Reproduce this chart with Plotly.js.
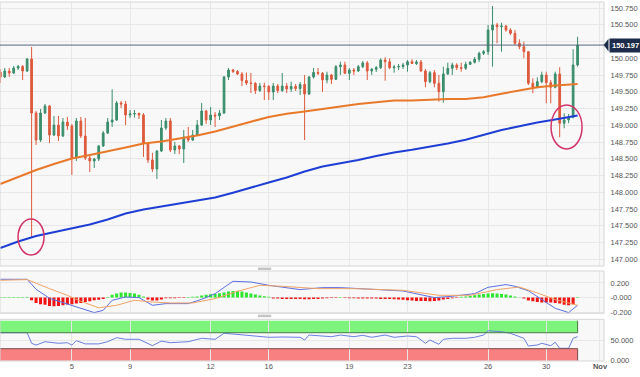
<!DOCTYPE html>
<html><head><meta charset="utf-8">
<script src="https://cdn.plot.ly/plotly-3.0.1.min.js"></script>
<style>html,body{margin:0;padding:0;background:#fff;}#chart{width:640px;height:377px;}</style>
</head><body><div id="chart"></div>
<script>
// 4-hour candles, slot index (6 per weekday + 1 Sunday slot), first visible slot = 2
const firstSlot = 2;
const open = [149.795,149.721,149.810,149.780,149.855,149.878,149.810,149.989,149.183,148.780,
149.183,149.288,148.855,149.004,148.840,149.049,148.989,148.512,149.064,148.840,
148.512,148.467,148.497,148.691,148.885,149.049,149.079,149.333,149.318,149.154,
149.169,149.176,149.154,148.736,148.482,148.348,148.616,148.960,149.064,148.631,
148.691,148.646,148.825,148.780,148.855,149.004,149.213,149.079,149.154,149.139,
149.183,149.721,149.825,149.803,149.766,149.668,149.631,149.624,149.519,149.586,
149.579,149.497,149.586,149.519,149.586,149.542,149.579,149.549,149.609,149.467,
149.721,149.788,149.776,149.676,149.751,149.686,149.875,149.900,149.776,149.825,
149.810,149.875,149.930,149.810,149.836,149.860,149.974,149.949,149.860,149.870,
149.878,149.900,149.949,149.922,149.945,149.810,149.651,149.785,149.627,149.501,
149.766,149.851,149.900,149.860,149.851,149.910,149.940,149.985,150.074,150.098,
150.422,150.497,150.471,150.482,150.422,150.373,150.224,150.173,150.098,149.627,
149.567,149.651,149.751,149.636,149.567,149.766,149.030,149.079,149.119,149.900];
const high = [149.840,149.855,149.855,149.885,149.900,149.900,150.004,150.169,149.213,149.243,
149.318,149.303,149.139,149.139,149.109,149.124,149.019,149.109,149.124,149.109,
148.542,148.512,148.706,148.915,149.109,149.537,149.363,149.363,149.363,149.228,
149.228,149.191,149.183,148.736,148.587,148.631,149.079,149.109,149.109,148.751,
148.706,148.930,148.975,148.930,149.079,149.333,149.228,149.273,149.198,149.228,
149.736,149.855,149.840,149.825,149.795,149.785,149.780,149.646,149.631,149.636,
149.601,149.631,149.616,149.780,149.631,149.651,149.616,149.646,149.751,149.736,
149.855,149.855,149.795,149.800,149.766,149.900,149.949,149.949,149.855,149.855,
149.900,149.960,149.960,149.855,149.885,150.000,150.015,150.000,149.900,149.915,
149.930,149.974,149.985,149.974,149.974,149.840,149.810,149.825,149.751,149.875,
149.934,149.934,149.925,149.934,149.949,149.960,150.019,150.098,150.124,150.497,
150.780,150.527,150.531,150.497,150.448,150.422,150.283,150.248,150.109,149.701,
149.716,149.800,149.800,149.676,149.800,149.866,149.179,149.169,150.134,150.322];
const low = [149.631,149.706,149.721,149.766,149.825,149.676,149.795,147.333,148.706,148.751,
149.169,148.736,148.840,148.766,148.825,148.930,148.258,148.467,148.810,148.482,
148.303,148.363,148.467,148.676,148.870,148.975,149.064,149.258,149.004,149.109,
149.116,149.094,148.527,148.437,148.303,148.198,148.601,148.930,148.601,148.572,
148.572,148.437,148.751,148.766,148.840,148.989,149.019,149.004,148.975,149.079,
149.169,149.676,149.780,149.751,149.586,149.601,149.482,149.467,149.497,149.377,
149.377,149.377,149.482,149.497,149.482,149.497,149.512,149.452,148.780,149.452,
149.698,149.751,149.501,149.627,149.616,149.676,149.751,149.766,149.676,149.751,
149.795,149.855,149.676,149.751,149.795,149.840,149.665,149.836,149.785,149.825,
149.840,149.800,149.915,149.900,149.800,149.567,149.627,149.567,149.352,149.337,
149.751,149.751,149.825,149.800,149.825,149.900,149.922,149.945,150.049,150.049,
149.875,150.224,150.098,150.397,150.348,150.198,150.134,150.000,149.601,149.477,
149.552,149.627,149.328,149.328,149.552,148.821,148.955,149.030,149.104,149.875];
const close = [149.721,149.810,149.780,149.855,149.878,149.810,149.989,149.183,148.780,149.183,
149.288,148.855,149.004,148.840,149.049,148.989,148.512,149.064,148.840,148.512,
148.467,148.497,148.691,148.885,149.049,149.079,149.333,149.318,149.154,149.169,
149.176,149.154,148.736,148.482,148.348,148.616,148.960,149.064,148.631,148.691,
148.646,148.825,148.780,148.855,149.004,149.213,149.079,149.154,149.139,149.183,
149.721,149.825,149.803,149.766,149.668,149.631,149.624,149.519,149.586,149.579,
149.497,149.586,149.519,149.586,149.542,149.579,149.549,149.609,149.467,149.721,
149.788,149.776,149.676,149.751,149.686,149.875,149.900,149.776,149.825,149.810,
149.875,149.930,149.810,149.836,149.860,149.974,149.949,149.860,149.870,149.878,
149.900,149.949,149.922,149.945,149.810,149.651,149.785,149.627,149.501,149.766,
149.851,149.900,149.860,149.851,149.910,149.940,149.985,150.074,150.098,150.422,
150.497,150.471,150.482,150.422,150.373,150.224,150.173,150.098,149.627,149.567,
149.651,149.751,149.636,149.567,149.766,149.030,149.079,149.119,149.900,150.197];

const maSlots = [2,6,10,14,18,22,26,30,34,38,42,46,50,54,58,62,66,70,74,78,82,86,90,94,98,102,106,110,114,118,122,126,130,131];
const smaOrange = [148.124,148.228,148.333,148.422,148.504,148.557,148.609,148.669,148.728,148.758,148.803,148.848,148.907,148.975,149.054,149.124,149.173,149.206,149.248,149.281,149.318,149.340,149.370,149.370,149.385,149.392,149.392,149.418,149.470,149.522,149.569,149.594,149.613,149.616];
const smaBlue = [147.169,147.266,147.348,147.407,147.467,147.519,147.594,147.683,147.743,147.788,147.825,147.877,147.922,147.994,148.075,148.146,148.221,148.310,148.385,148.430,148.482,148.542,148.594,148.634,148.676,148.728,148.784,148.855,148.930,148.985,149.042,149.086,149.139,149.146];

const macdSlots = [2,8,9,10,13,17,20,23,25,27,30,33,36,39,44,47,50,54,58,62,69,74,78,85,92,99,103,108,111,115,117,120,124,126,129,131];
const macdLine = [0.249,0.249,0.181,0.113,-0.010,-0.091,-0.150,-0.204,-0.173,-0.037,0.008,0,-0.105,-0.082,-0.082,-0.023,0.054,0.222,0.212,0.167,0.109,0.136,0.136,0.113,0.090,0,0.018,0.054,0.140,0.177,0.154,0.093,-0.060,-0.146,-0.204,-0.105];
const signalSlots = [2,8,13,17,20,24,28,32,36,40,45,50,55,60,65,73,81,92,100,107,113,118,122,126,131];
const signalLine = [0.235,0.245,0.122,0.031,-0.050,-0.139,-0.105,-0.037,-0.060,-0.073,-0.073,-0.014,0.086,0.167,0.154,0.122,0.122,0.099,0.031,0.031,0.109,0.144,0.063,-0.027,-0.105];
const histogram = [0.008,0.008,0.008,0.008,0.008,0.008,0.008,
-0.037,-0.072,-0.091,-0.099,-0.113,-0.118,-0.113,-0.105,-0.095,-0.091,-0.082,-0.072,-0.059,-0.050,-0.037,-0.031,-0.018,
0.007,0.037,0.054,0.068,0.068,0.064,0.054,0.037,0.014,
-0.027,-0.041,-0.041,-0.027,-0.010,-0.010,-0.010,-0.007,-0.007,
0.007,0.010,0.014,0.027,0.037,0.045,0.050,0.059,0.068,0.082,0.091,0.091,0.082,0.068,0.054,0.041,0.027,0.018,0.010,
-0.014,-0.014,-0.018,-0.018,-0.018,-0.020,-0.020,-0.023,-0.023,-0.020,-0.018,-0.014,-0.010,-0.007,-0.004,
0.007,
-0.007,-0.010,-0.010,-0.014,-0.014,-0.014,-0.014,-0.014,-0.018,-0.018,-0.020,-0.023,
-0.027,-0.031,-0.037,-0.041,-0.045,-0.045,-0.045,-0.050,-0.045,-0.041,-0.027,-0.018,-0.010,-0.004,
0.010,0.014,0.023,0.031,0.041,0.050,0.054,0.059,0.054,0.050,0.041,0.027,0.014,0.004,
-0.014,-0.041,-0.050,-0.059,-0.068,-0.068,-0.068,-0.072,-0.082,-0.099,-0.105,-0.091,
0.007];

const rsiSlots = [2,8,9,10,12,15,17,18,19,21,24,26,28,30,33,36,38,40,44,47,50,52,54,58,62,65,69,70,71,73,76,78,81,83,85,88,90,93,95,97,98,100,101,103,106,108,110,111,114,116,118,119,120,122,123,125,126,127,129,130,131];
const rsiValues = [70,70,43.5,39,47.5,43.5,45,39,50,42,42,47.5,57.5,53.5,53.5,37.5,49,45,47.5,56,53.5,68.5,66.7,61.7,58.5,59.2,58.5,51.7,64.2,62.5,60,64.2,60,63.5,58.5,64.2,58.5,61.7,60,43.5,51.7,41,53.5,56,56,58.5,64.2,75,72.5,68.5,60,56,36.7,39.2,43.5,37.5,46,31,31,56,60];

const dayTickSlots = [18,31,49,62,80,93,111,124,136];
const dayTickLabels = ['5','9','12','16','19','23','26','30','<b>Nov</b>'];
const priceTicks = [147,147.25,147.5,147.75,148,148.25,148.5,148.75,149,149.25,149.5,149.75,150,150.25,150.5,150.75];
const macdTicks = [0.2,0,-0.2];
const macdTickText = ['0.200','-0.000','-0.200'];
const rsiTicks = [0,50];
const rsiTickText = ['0.000','50.000'];
const lastPrice = 150.197;

const slots = open.map((_, i) => firstSlot + i);
const lastSlot = slots[slots.length - 1];
const histColors = histogram.map(v => v >= 0 ? '#2ee62e' : '#f01414');

const FONT = 'Liberation Sans, Arial, sans-serif';
const tickFont = {family: FONT, size: 7.5, color: '#555'};
const GRID = '#e7e7e7';

const traces = [
  {type:'candlestick', x:slots, open:open, high:high, low:low, close:close,
   xaxis:'x', yaxis:'y', whiskerwidth:0, hoverinfo:'skip',
   increasing:{line:{color:'#3a8e6c', width:1}, fillcolor:'#3a8e6c'},
   decreasing:{line:{color:'#de5a3d', width:1}, fillcolor:'#de5a3d'}},
  {type:'scatter', mode:'lines', x:maSlots, y:smaOrange, xaxis:'x', yaxis:'y',
   line:{color:'#e8792b', width:2}, hoverinfo:'skip'},
  {type:'scatter', mode:'lines', x:maSlots, y:smaBlue, xaxis:'x', yaxis:'y',
   line:{color:'#1f3fd4', width:2}, hoverinfo:'skip'},
  {type:'bar', x:slots, y:histogram, xaxis:'x', yaxis:'y2', width:0.68,
   marker:{color:histColors, line:{width:0}}, hoverinfo:'skip'},
  {type:'scatter', mode:'lines', x:macdSlots, y:macdLine, xaxis:'x', yaxis:'y2',
   line:{color:'#5c6fe0', width:1}, hoverinfo:'skip'},
  {type:'scatter', mode:'lines', x:signalSlots, y:signalLine, xaxis:'x', yaxis:'y2',
   line:{color:'#f0a466', width:1}, hoverinfo:'skip'},
  {type:'scatter', mode:'lines', x:rsiSlots, y:rsiValues, xaxis:'x', yaxis:'y3',
   line:{color:'#6a7ee0', width:1}, hoverinfo:'skip'}
];

const panelFrame = (ref) => ({type:'rect', xref:'paper', yref: ref + ' domain', x0:0, x1:1, y0:0, y1:1,
  line:{color:'#d6d6d6', width:1}, fillcolor:'rgba(0,0,0,0)', layer:'above'});

const xLeft = 1.94;
const shapes = [
  {type:'rect', xref:'x', yref:'y3', x0:xLeft, x1:lastSlot, y0:70, y1:100, fillcolor:'#7df57d', line:{width:0}, layer:'below'},
  {type:'rect', xref:'x', yref:'y3', x0:xLeft, x1:lastSlot, y0:0, y1:30, fillcolor:'#f88080', line:{width:0}, layer:'below'},
  {type:'line', xref:'x', yref:'y3', x0:xLeft, x1:lastSlot, y0:70, y1:70, line:{color:'#4b7a4b', width:1}},
  {type:'line', xref:'x', yref:'y3', x0:lastSlot, x1:lastSlot, y0:70, y1:100, line:{color:'#4b7a4b', width:1}},
  {type:'line', xref:'x', yref:'y3', x0:xLeft, x1:lastSlot, y0:30, y1:30, line:{color:'#7a4b4b', width:1}},
  {type:'line', xref:'x', yref:'y3', x0:lastSlot, x1:lastSlot, y0:0, y1:30, line:{color:'#7a4b4b', width:1}},
  panelFrame('y'), panelFrame('y2'), panelFrame('y3'),
  {type:'line', xref:'paper', yref:'y', x0:0, x1:1, y0:lastPrice, y1:lastPrice, line:{color:'#5a6880', width:1}},
  {type:'path', xref:'paper', yref:'y', path:'M 0.9995,150.197 L 1.0075,150.292 L 1.0075,150.102 Z', fillcolor:'#1c2c4a', line:{width:0}},
  {type:'circle', xref:'x', yref:'y', x0:5.97, x1:11.78, y0:147.064, y1:147.601, line:{color:'#d3336b', width:1.5}},
  {type:'circle', xref:'x', yref:'y', x0:125.07, x1:132.0, y0:148.646, y1:149.303, line:{color:'#d3336b', width:1.5}},
  {type:'rect', xref:'paper', yref:'paper', x0:0.427, x1:0.449, y0:0.2555, y1:0.2625, fillcolor:'#c4c4c4', line:{width:0}},
  {type:'rect', xref:'paper', yref:'paper', x0:0.427, x1:0.449, y0:0.1245, y1:0.1315, fillcolor:'#c4c4c4', line:{width:0}}
];

const layout = {
  width:640, height:377,
  margin:{l:0, r:36, t:2, b:15, pad:0},
  paper_bgcolor:'#ffffff', plot_bgcolor:'#f8f8f8',
  showlegend:false, boxgap:0.45, bargap:0.3,
  font:{family:FONT, size:7.5, color:'#555'},
  xaxis:{range:[xLeft, 136.9], anchor:'y3', tickmode:'array', tickvals:dayTickSlots, ticktext:dayTickLabels,
    showgrid:true, gridcolor:GRID, zeroline:false, showline:false, ticks:'', tickfont:tickFont,
    rangeslider:{visible:false}, fixedrange:true},
  yaxis:{domain:[0.2667, 1], range:[146.9, 150.84], side:'right', anchor:'x', tickmode:'array', tickvals:priceTicks,
    tickformat:'.3f', showgrid:true, gridcolor:GRID, zeroline:false, ticks:'outside', ticklen:4,
    tickcolor:'rgba(0,0,0,0)', tickfont:tickFont, fixedrange:true},
  yaxis2:{domain:[0.1353, 0.2528], range:[-0.2136, 0.362], side:'right', anchor:'x', tickmode:'array',
    tickvals:macdTicks, ticktext:macdTickText, showgrid:true, gridcolor:GRID, zeroline:false,
    ticks:'outside', ticklen:4, tickcolor:'rgba(0,0,0,0)', tickfont:tickFont, fixedrange:true},
  yaxis3:{domain:[0.0028, 0.1186], range:[-0.75, 103.5], side:'right', anchor:'x', tickmode:'array',
    tickvals:rsiTicks, ticktext:rsiTickText, showgrid:true, gridcolor:GRID, zeroline:false,
    ticks:'outside', ticklen:4, tickcolor:'rgba(0,0,0,0)', tickfont:tickFont, fixedrange:true},
  shapes:shapes,
  annotations:[{xref:'paper', yref:'y', x:1.0075, y:lastPrice, xanchor:'left', yanchor:'middle',
    text:'<b>' + lastPrice.toFixed(3) + '</b>', showarrow:false, bgcolor:'#1c2c4a', borderpad:2,
    font:{family:FONT, size:7.5, color:'#ffffff'}}]
};

Plotly.newPlot('chart', traces, layout, {displayModeBar:false, staticPlot:true});
</script>
</body></html>
